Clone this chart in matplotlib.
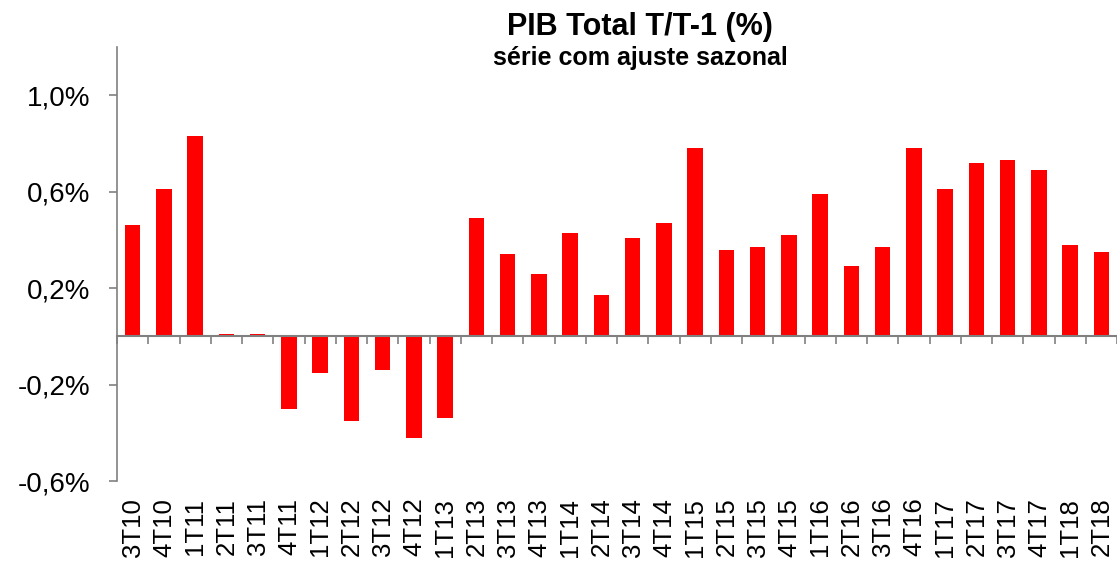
import numpy as np
import matplotlib
matplotlib.use("Agg")
import matplotlib.pyplot as plt
from matplotlib.ticker import FuncFormatter, NullFormatter

plt.rcParams['font.family'] = ['Liberation Sans', 'DejaVu Sans']

# trimestres
quarters = ['3T10', '4T10', '1T11', '2T11', '3T11', '4T11', '1T12', '2T12',
            '3T12', '4T12', '1T13', '2T13', '3T13', '4T13', '1T14', '2T14',
            '3T14', '4T14', '1T15', '2T15', '3T15', '4T15', '1T16', '2T16',
            '3T16', '4T16', '1T17', '2T17', '3T17', '4T17', '1T18', '2T18']
# variação T/T-1 (%)
pib_tt = [0.46, 0.61, 0.83, 0.01, 0.01, -0.30, -0.15, -0.35,
          -0.14, -0.42, -0.34, 0.49, 0.34, 0.26, 0.43, 0.17,
          0.41, 0.47, 0.78, 0.36, 0.37, 0.42, 0.59, 0.29,
          0.37, 0.78, 0.61, 0.72, 0.73, 0.69, 0.38, 0.35]
y_ticks = [-0.6, -0.2, 0.2, 0.6, 1.0]
y_min, y_max = -0.6, 1.2

fig = plt.figure(figsize=(11.17, 5.61), dpi=100)
ax = fig.add_axes([0.1048, 0.1426, 0.8952, 0.7734])

x = np.arange(len(quarters))
ax.bar(x, pib_tt, width=0.5, color='#ff0000', zorder=2)

ax.set_xlim(-0.5, len(quarters) - 0.5)
ax.set_ylim(y_min, y_max)
ax.set_yticks(y_ticks)
ax.yaxis.set_major_formatter(FuncFormatter(lambda v, p: f'{v:.1f}%'.replace('.', ',')))
ax.tick_params(axis='y', labelsize=20, color='#808080', length=6, width=1.2, pad=13)

# rótulos em baixo, sem marcas
ax.set_xticks(x)
ax.set_xticklabels(quarters, rotation=90, fontsize=18.5)
ax.tick_params(axis='x', length=0, pad=12)

for s in ['top', 'right', 'bottom']:
    ax.spines[s].set_visible(False)
ax.spines['left'].set_color('#808080')
ax.spines['left'].set_linewidth(1.2)

# eixo do zero com marcas entre as categorias
zero_ax = ax.secondary_xaxis((0 - y_min) / (y_max - y_min))
zero_ax.set_xticks(np.arange(len(quarters) + 1) - 0.5)
zero_ax.xaxis.set_major_formatter(NullFormatter())
zero_ax.tick_params(axis='x', length=6, width=1.2, color='#808080')
zero_ax.spines['bottom'].set_color('#808080')
zero_ax.spines['bottom'].set_linewidth(1.5)
zero_ax.set_zorder(3)

fig.text(0.573, 0.938, 'PIB Total T/T-1 (%)', ha='center', fontsize=22, fontweight='bold')
fig.text(0.573, 0.885, 'série com ajuste sazonal', ha='center', fontsize=18, fontweight='bold')

fig.savefig('out.png', dpi=100)
